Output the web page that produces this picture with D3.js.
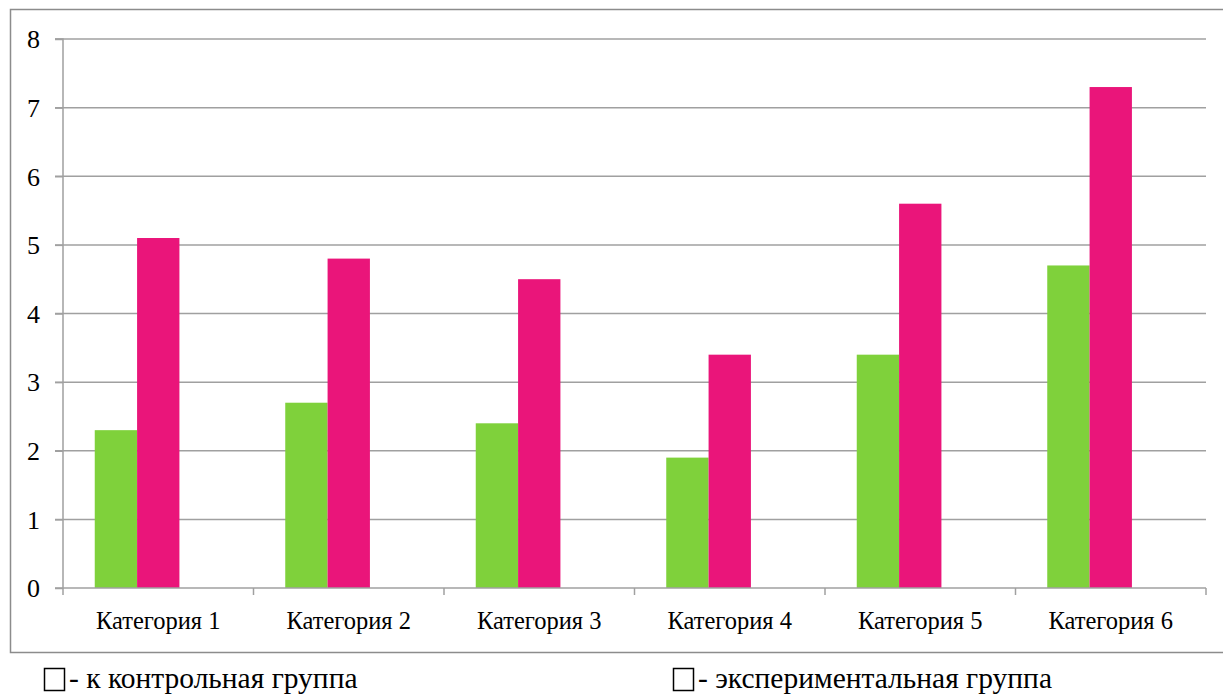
<!DOCTYPE html>
<html>
<head>
<meta charset="utf-8">
<script src="https://cdn.jsdelivr.net/npm/d3@7"></script>
</head>
<body style="margin:0">
<svg id="chart" width="1223" height="694"></svg>
<script>
const categories = ["Категория 1","Категория 2","Категория 3","Категория 4","Категория 5","Категория 6"];
const seriesNames = ["контрольная", "экспериментальная", "пусто"];
const control = [2.3, 2.7, 2.4, 1.9, 3.4, 4.7];
const experimental = [5.1, 4.8, 4.5, 3.4, 5.6, 7.3];
const yTicks = [0,1,2,3,4,5,6,7,8];
const legendLabels = ["- к контрольная группа", "- экспериментальная группа"];
const colors = ["#7FD13B", "#EA157A"];

(function(){
const FONT = "Liberation Serif";
const svg = d3.select("#chart").attr("font-family", FONT);
const mL = 63, mR = 1206, mT = 39, mB = 588;
const catSize = 24.5, legSize = 29.5;

svg.append("path")
  .attr("d", `M1223,9.5 H10.5 V652.5 H1223`)
  .attr("fill","none").attr("stroke","#8c8c8c").attr("stroke-width",1.5);

const x = d3.scaleBand().domain(categories).range([mL, mR]).paddingInner(0).paddingOuter(0);
const sub = d3.scaleBand().domain(seriesNames).range([0, x.bandwidth()]).paddingInner(0).paddingOuter(0.75);
const y = d3.scaleLinear().domain([0,8]).range([mB, mT]);

svg.append("g").selectAll("line").data(yTicks.filter(d=>d>0)).join("line")
  .attr("x1", mL-8).attr("x2", mR)
  .attr("y1", d=>y(d)).attr("y2", d=>y(d))
  .attr("stroke","#a0a0a0").attr("stroke-width",1.5);

const data = [control, experimental];
data.forEach((vals, si) => {
  svg.append("g").selectAll("rect").data(vals).join("rect")
    .attr("x", (d,i)=> x(categories[i]) + sub(seriesNames[si]))
    .attr("width", sub.bandwidth())
    .attr("y", d=>y(d))
    .attr("height", d=> y(0)-y(d))
    .attr("fill", colors[si]);
});

const gy = svg.append("g").attr("transform",`translate(${mL},0)`)
  .call(d3.axisLeft(y).tickValues(yTicks).tickSize(8).tickPadding(15).tickFormat(d3.format("d")));
gy.attr("font-family", null).attr("font-size", null);
gy.select(".domain").attr("stroke","#a0a0a0").attr("stroke-width",1.5).attr("d",`M-8,${mT}H0V${mB}H-8`);
gy.selectAll(".tick line").attr("stroke","#a0a0a0").attr("stroke-width",1.5);
gy.selectAll(".tick text").attr("fill","#000").attr("dy","0.34em")
  .attr("font-family", FONT).attr("font-size", 26);

const gx = svg.append("g").attr("transform",`translate(0,${mB})`)
  .call(d3.axisBottom(x).tickSize(0).tickPadding(0));
gx.attr("font-family", null).attr("font-size", null);
gx.select(".domain").attr("stroke","#a0a0a0").attr("stroke-width",1.5).attr("d",`M${mL},0H${mR}`);
gx.selectAll(".tick text").attr("fill","#000").attr("y", 41).attr("dy", 0)
  .attr("font-family", FONT).attr("font-size", catSize);
svg.append("g").selectAll("line").data(categories.concat(["end"])).join("line")
  .attr("x1",(d,i)=> i<categories.length ? x(d) : mR)
  .attr("x2",(d,i)=> i<categories.length ? x(d) : mR)
  .attr("y1",mB).attr("y2",mB+7)
  .attr("stroke","#a0a0a0").attr("stroke-width",1.5);

const legendX = [44, 673];
legendLabels.forEach((lab,i)=>{
  svg.append("rect").attr("x",legendX[i]+0.5).attr("y",668.5).attr("width",20).attr("height",22)
    .attr("fill","#fff").attr("stroke","#000").attr("stroke-width",1.5);
  svg.append("text").attr("x",legendX[i]+25).attr("y",688)
    .attr("font-family",FONT).attr("font-size",legSize).attr("fill","#000").text(lab);
});
})();
</script>
</body>
</html>
